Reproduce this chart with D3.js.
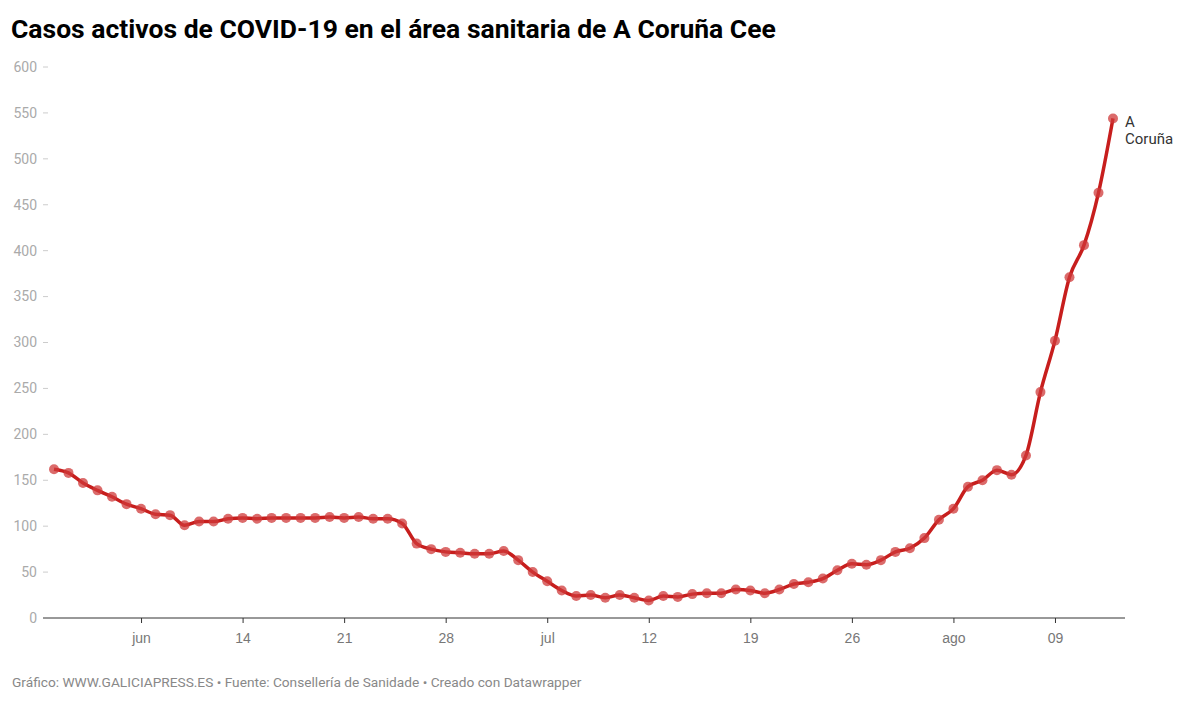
<!DOCTYPE html>
<html>
<head>
    <meta charset="utf-8">
    <title>Casos activos de COVID-19 en el área sanitaria de A Coruña Cee</title>
    <style>
        body {
            margin: 0;
            background: #fff;
            font-family: Roboto, "Noto Sans", Arial, sans-serif;
        }

        .chart-title {
            font-weight: bold;
            font-size: 26.5px;
            fill: #000;
        }

        .y-axis text {
            font-size: 14px;
            fill: #aaa;
        }

        .x-axis text {
            font-size: 14px;
            fill: #777;
        }

        .footer {
            font-size: 13.7px;
            fill: #888;
        }
    </style>
</head>
<body>
    <div id="chart"></div>

    <script src="https://d3js.org/d3.v7.min.js"></script>
    <script>
        // Days (2020) and active cases
        const dates = [
            "2020-06-01", "2020-06-02", "2020-06-03", "2020-06-04", "2020-06-05", "2020-06-06", "2020-06-07",
            "2020-06-08", "2020-06-09", "2020-06-10", "2020-06-11", "2020-06-12", "2020-06-13", "2020-06-14",
            "2020-06-15", "2020-06-16", "2020-06-17", "2020-06-18", "2020-06-19", "2020-06-20", "2020-06-21",
            "2020-06-22", "2020-06-23", "2020-06-24", "2020-06-25", "2020-06-26", "2020-06-27", "2020-06-28",
            "2020-06-29", "2020-06-30", "2020-07-01", "2020-07-02", "2020-07-03", "2020-07-04", "2020-07-05",
            "2020-07-06", "2020-07-07", "2020-07-08", "2020-07-09", "2020-07-10", "2020-07-11", "2020-07-12",
            "2020-07-13", "2020-07-14", "2020-07-15", "2020-07-16", "2020-07-17", "2020-07-18", "2020-07-19",
            "2020-07-20", "2020-07-21", "2020-07-22", "2020-07-23", "2020-07-24", "2020-07-25", "2020-07-26",
            "2020-07-27", "2020-07-28", "2020-07-29", "2020-07-30", "2020-07-31", "2020-08-01", "2020-08-02",
            "2020-08-03", "2020-08-04", "2020-08-05", "2020-08-06", "2020-08-07", "2020-08-08", "2020-08-09",
            "2020-08-10", "2020-08-11", "2020-08-12", "2020-08-13"
        ];

        const casos = [
            162, 158, 147, 139, 132, 124, 119,
            113, 112, 101, 105, 105, 108, 109,
            108, 109, 109, 109, 109, 110, 109,
            110, 108, 108, 103, 81, 75, 72,
            71, 70, 70, 73, 63, 50, 40,
            30, 24, 25, 22, 25, 22, 19,
            24, 23, 26, 27, 27, 31, 30,
            27, 31, 37, 39, 43, 52, 59,
            58, 63, 72, 76, 87, 107, 119,
            143, 150, 161, 156, 177, 246, 302,
            371, 406, 463, 544
        ];

        const seriesName = ["A", "Coruña"];

        const yTicks = [0, 50, 100, 150, 200, 250, 300, 350, 400, 450, 500, 550, 600];
        const xTickDates = ["2020-06-07", "2020-06-14", "2020-06-21", "2020-06-28", "2020-07-05",
                            "2020-07-12", "2020-07-19", "2020-07-26", "2020-08-02", "2020-08-09"];
        const xTickLabels = ["jun", "14", "21", "28", "jul", "12", "19", "26", "ago", "09"];

        const parseDate = d3.timeParse("%Y-%m-%d");
        const data = dates.map((d, i) => ({ date: parseDate(d), value: casos[i] }));

        const width = 1199, height = 709;
        const svg = d3.select("#chart").append("svg")
            .attr("width", width)
            .attr("height", height);

        svg.append("text")
            .attr("class", "chart-title")
            .attr("x", 11)
            .attr("y", 38)
            .text("Casos activos de COVID-19 en el área sanitaria de A Coruña Cee");

        const xScale = d3.scaleTime()
            .domain([data[0].date, data[data.length - 1].date])
            .range([54, 1113]);

        const yScale = d3.scaleLinear()
            .domain([0, 600])
            .range([618, 67]);

        // y axis: labels with short dashes, no full grid
        const yAxis = svg.append("g").attr("class", "y-axis");
        yAxis.selectAll("text")
            .data(yTicks)
            .enter()
            .append("text")
            .attr("x", 37)
            .attr("y", d => yScale(d))
            .attr("dy", "0.35em")
            .attr("text-anchor", "end")
            .text(d => d);
        yAxis.selectAll("line")
            .data(yTicks.filter(d => d > 0))
            .enter()
            .append("line")
            .attr("x1", 43)
            .attr("x2", 48)
            .attr("y1", d => yScale(d))
            .attr("y2", d => yScale(d))
            .attr("stroke", "#ccc")
            .attr("stroke-width", 1);

        // x axis
        const xAxis = d3.axisBottom(xScale)
            .tickValues(xTickDates.map(parseDate))
            .tickFormat((d, i) => xTickLabels[i])
            .tickSize(5)
            .tickPadding(10);

        const xg = svg.append("g")
            .attr("class", "x-axis")
            .attr("transform", `translate(0, ${yScale(0)})`)
            .call(xAxis);
        xg.select(".domain").remove();
        xg.selectAll(".tick line").attr("stroke", "#333");
        xg.selectAll(".tick text").attr("fill", "#777");

        svg.append("line")
            .attr("x1", 43)
            .attr("x2", 1125)
            .attr("y1", yScale(0))
            .attr("y2", yScale(0))
            .attr("stroke", "#333")
            .attr("stroke-width", 1);

        // line
        const line = d3.line()
            .x(d => xScale(d.date))
            .y(d => yScale(d.value))
            .curve(d3.curveMonotoneX);

        svg.append("path")
            .datum(data)
            .attr("d", line)
            .attr("fill", "none")
            .attr("stroke", "#c71e1d")
            .attr("stroke-width", 3.5)
            .attr("stroke-linejoin", "round");

        svg.selectAll("circle.dot")
            .data(data)
            .enter()
            .append("circle")
            .attr("class", "dot")
            .attr("cx", d => xScale(d.date))
            .attr("cy", d => yScale(d.value))
            .attr("r", 5)
            .attr("fill", "#cf3a39")
            .attr("fill-opacity", 0.75);

        // series label at the end
        const last = data[data.length - 1];
        svg.append("text")
            .attr("x", xScale(last.date) + 12)
            .attr("y", yScale(last.value) + 3)
            .attr("font-size", 15)
            .attr("fill", "#333")
            .selectAll("tspan")
            .data(seriesName)
            .enter()
            .append("tspan")
            .attr("x", xScale(last.date) + 12)
            .attr("dy", (d, i) => i === 0 ? "0.35em" : "1.15em")
            .text(d => d);

        svg.append("text")
            .attr("class", "footer")
            .attr("x", 12)
            .attr("y", 687)
            .text("Gráfico: WWW.GALICIAPRESS.ES • Fuente: Consellería de Sanidade • Creado con Datawrapper");
    </script>
</body>
</html>
